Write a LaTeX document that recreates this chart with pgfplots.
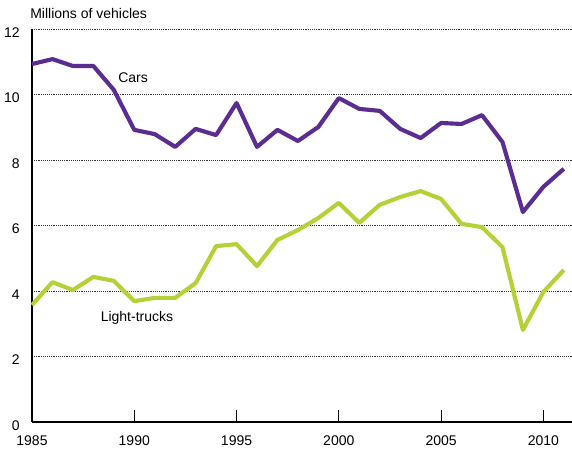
\documentclass[border=0pt]{standalone}
\usepackage{pgfplots}
\pgfplotsset{compat=1.18}
\usepackage{fontspec}
\setmainfont{Liberation Sans}
\definecolor{carpurple}{RGB}{92,45,145}
\definecolor{truckgreen}{RGB}{180,210,55}
\begin{document}
\fontsize{10.5pt}{12pt}\selectfont
\begin{tikzpicture}
\begin{axis}[
  width=405pt, height=294.75pt, scale only axis,
  xmin=1985, xmax=2011.4, ymin=0, ymax=12,
  axis x line=bottom, axis y line=left,
  axis line style={-, line width=1.5pt, black},
  xtick={1985,1990,1995,2000,2005,2010},
  ytick={0,2,4,6,8,10,12},
  x tick label style={/pgf/number format/1000 sep={}, yshift=-6.5pt},
  y tick label style={xshift=-5.5pt, yshift=-2.5pt},
  /pgf/number format/assume math mode=true,
  tick label style={font=\fontsize{10.5pt}{12pt}\selectfont},
  tick align=inside,
  major tick length=9pt,
  xtick style={black, line width=0.6pt},
  ytick style={draw=none},
  ymajorgrids,
  grid style={densely dotted, line width=0.6pt, black!80},
  clip=false,
]
\addplot[carpurple, line width=3.1pt, line join=round] coordinates {
(1985,10.93) (1986,11.08) (1987,10.87) (1988,10.87) (1989,10.14)
(1990,8.92) (1991,8.79) (1992,8.40) (1993,8.95) (1994,8.76)
(1995,9.74) (1996,8.40) (1997,8.92) (1998,8.58) (1999,9.01)
(2000,9.89) (2001,9.56) (2002,9.50) (2003,8.95) (2004,8.67)
(2005,9.13) (2006,9.10) (2007,9.37) (2008,8.55) (2009,6.41)
(2010,7.18) (2011,7.73)
};
\addplot[truckgreen, line width=3.1pt, line join=round] coordinates {
(1985,3.57) (1986,4.27) (1987,4.03) (1988,4.43) (1989,4.31)
(1990,3.69) (1991,3.79) (1992,3.79) (1993,4.24) (1994,5.37)
(1995,5.43) (1996,4.76) (1997,5.56) (1998,5.86) (1999,6.23)
(2000,6.69) (2001,6.08) (2002,6.63) (2003,6.87) (2004,7.05)
(2005,6.81) (2006,6.05) (2007,5.95) (2008,5.34) (2009,2.81)
(2010,3.97) (2011,4.64)
};
\node at (axis cs:1989.94,10.50) {Cars};
\node at (axis cs:1990.13,3.18) {Light-trucks};
\node[anchor=west, inner sep=0pt] at (rel axis cs:-0.0037,1.0382) {Millions of vehicles};
\coordinate (bl) at (rel axis cs:-0.05926,-0.0916);
\coordinate (tr) at (rel axis cs:1,1.07379);
\end{axis}
\pgfresetboundingbox
\path[use as bounding box] (bl) rectangle (tr);
\end{tikzpicture}
\end{document}
